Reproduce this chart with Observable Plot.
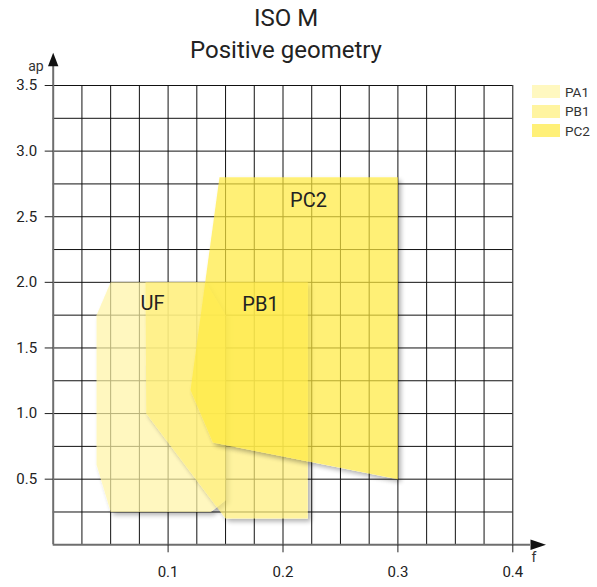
<!DOCTYPE html>
<html>
<head>
<meta charset="utf-8">
<script src="https://cdn.jsdelivr.net/npm/d3@7"></script>
<script src="https://cdn.jsdelivr.net/npm/@observablehq/plot@0.6"></script>
<style>
  html, body { margin: 0; padding: 0; background: #fff; }
  #wrap { position: relative; width: 597px; height: 587px; font-family: Roboto, "Open Sans", sans-serif; }
  #title { position: absolute; left: 0; top: 2px; width: 572px; text-align: center; font-size: 24px; line-height: 32px; color: #222; }
  #legend { position: absolute; left: 532px; top: 85px; font-size: 13.5px; color: #333; }
  .row { display: flex; align-items: center; height: 13px; margin-bottom: 6.5px; }
  .sw { width: 28px; height: 13px; margin-right: 5px; }
  svg { position: absolute; left: 0; top: 0; overflow: visible; }
</style>
</head>
<body>
<div id="wrap">
  <div id="chart"></div>
  <div id="title"><div>ISO M</div><div>Positive geometry</div></div>
  <div id="legend"></div>
</div>
<script>
// ----- data -----
const seriesNames = ["PA1", "PB1", "PC2"];
const legendColors = ["#fff8c0", "#fff4a0", "#fff078"];
const fillColors = ["#fff5a5", "#ffef77", "#ffea3e"];

const PA1_f  = [0.050, 0.1326, 0.150, 0.150, 0.137, 0.050, 0.0377, 0.0377];
const PA1_ap = [2.00,  2.00,   1.75,  0.34,  0.25,  0.25,  0.61,   1.75];
const PB1_f  = [0.0803, 0.2216, 0.2216, 0.150, 0.081];
const PB1_ap = [2.00,   2.00,   0.20,   0.20,  1.00];
const PC2_f  = [0.1447, 0.300, 0.300, 0.139, 0.1195];
const PC2_ap = [2.80,   2.80,  0.50,  0.78,  1.18];

const regionLabels = ["UF", "PB1", "PC2"];
const labelF  = [0.0864, 0.1804, 0.2222];
const labelAp = [1.835, 1.83, 2.62];

const xTicks = [0.1, 0.2, 0.3, 0.4];
const yTicks = [0.5, 1.0, 1.5, 2.0, 2.5, 3.0, 3.5];
const xGridStep = 0.025, yGridStep = 0.25;
const xMax = 0.4, yMax = 3.5;
const xAxisEnd = 0.4154, yAxisEnd = 3.646;   // where the axis arrows start
const axisNames = ["f", "ap"];

// ----- build tables -----
const polys = [
  PA1_f.map((f, i) => ({f, ap: PA1_ap[i]})),
  PB1_f.map((f, i) => ({f, ap: PB1_ap[i]})),
  PC2_f.map((f, i) => ({f, ap: PC2_ap[i]}))
];
const labels = regionLabels.map((t, i) => ({t, f: labelF[i], ap: labelAp[i]}));
const xGrid = d3.range(1, Math.round(xMax / xGridStep) + 1).map(i => +(i * xGridStep).toFixed(3));
const yGrid = d3.range(1, Math.round(yMax / yGridStep) + 1).map(i => +(i * yGridStep).toFixed(3));

const arrowUp = {draw(ctx) { ctx.moveTo(0, -13.5); ctx.lineTo(5.2, 0); ctx.lineTo(-5.2, 0); ctx.closePath(); }};
const arrowRight = {draw(ctx) { ctx.moveTo(15.5, 0); ctx.lineTo(0, -5.2); ctx.lineTo(0, 5.2); ctx.closePath(); }};

const chart = Plot.plot({
  width: 597,
  height: 587,
  marginLeft: 52.7,
  marginRight: 84.7,
  marginTop: 85,
  marginBottom: 42.7,
  x: {domain: [0, xMax]},
  y: {domain: [0, yMax]},
  style: {fontFamily: "Roboto, sans-serif", fontSize: "15px", color: "#222", background: "transparent", overflow: "visible"},
  marks: [
    Plot.ruleX(xGrid, {y1: 0, y2: yMax, stroke: "#111", strokeWidth: 1}),
    Plot.ruleY(yGrid, {x1: 0, x2: xMax, stroke: "#111", strokeWidth: 1}),
    ...polys.map((p, i) => Plot.line(p, {
      x: "f", y: "ap", curve: "linear-closed",
      fill: fillColors[i], stroke: "none"
    })),
    Plot.text(labels, {x: "f", y: "ap", text: "t", fontSize: 20, fill: "#222"}),
    Plot.ruleX([0], {y1: 0, y2: yAxisEnd, stroke: "#6e6e6e", strokeWidth: 2}),
    Plot.ruleY([0], {x1: 0, x2: xAxisEnd, stroke: "#6e6e6e", strokeWidth: 2}),
    Plot.axisX(xTicks, {tickSize: 8, tickPadding: 14, tickFormat: d3.format(".1f"), label: null, fontSize: 15}),
    Plot.axisY(yTicks, {tickSize: 8, tickPadding: 8, tickFormat: d3.format(".1f"), label: null, fontSize: 15}),
    Plot.dot([{f: 0, ap: yAxisEnd}], {x: "f", y: "ap", symbol: arrowUp, fill: "#111", stroke: "none"}),
    Plot.dot([{f: xAxisEnd, ap: 0}], {x: "f", y: "ap", symbol: arrowRight, fill: "#111", stroke: "none"}),
    Plot.text([{t: axisNames[1], f: 0, ap: yAxisEnd}], {x: "f", y: "ap", text: "t", dx: -9.5, dy: 0, textAnchor: "end", fontSize: 14, fill: "#333"}),
    Plot.text([{t: axisNames[0], f: xAxisEnd, ap: 0}], {x: "f", y: "ap", text: "t", dx: 1, dy: 13, textAnchor: "start", fontSize: 14, fill: "#333"})
  ]
});

// soft shadow drawn only outside each shape, then the shape made translucent
const svg = d3.select(chart);
const defs = svg.insert("defs", ":first-child");
const flt = defs.append("filter").attr("id", "outerShadow")
  .attr("x", "-20%").attr("y", "-20%").attr("width", "140%").attr("height", "140%");
flt.append("feGaussianBlur").attr("in", "SourceAlpha").attr("stdDeviation", 2.5).attr("result", "blur");
flt.append("feOffset").attr("in", "blur").attr("dx", 2.5).attr("dy", 3).attr("result", "off");
flt.append("feComponentTransfer").attr("in", "off").attr("result", "soft")
  .append("feFuncA").attr("type", "linear").attr("slope", 0.45);
flt.append("feComposite").attr("in", "soft").attr("in2", "SourceAlpha").attr("operator", "out").attr("result", "shadow");
const merge = flt.append("feMerge");
merge.append("feMergeNode").attr("in", "shadow");
merge.append("feMergeNode").attr("in", "SourceGraphic");

svg.selectAll('g[aria-label="line"]')
  .attr("filter", "url(#outerShadow)")
  .style("opacity", 0.7);

document.getElementById("chart").appendChild(chart);

const legend = d3.select("#legend");
seriesNames.forEach((n, i) => {
  const row = legend.append("div").attr("class", "row");
  row.append("div").attr("class", "sw").style("background", legendColors[i]);
  row.append("span").text(n);
});
</script>
</body>
</html>
